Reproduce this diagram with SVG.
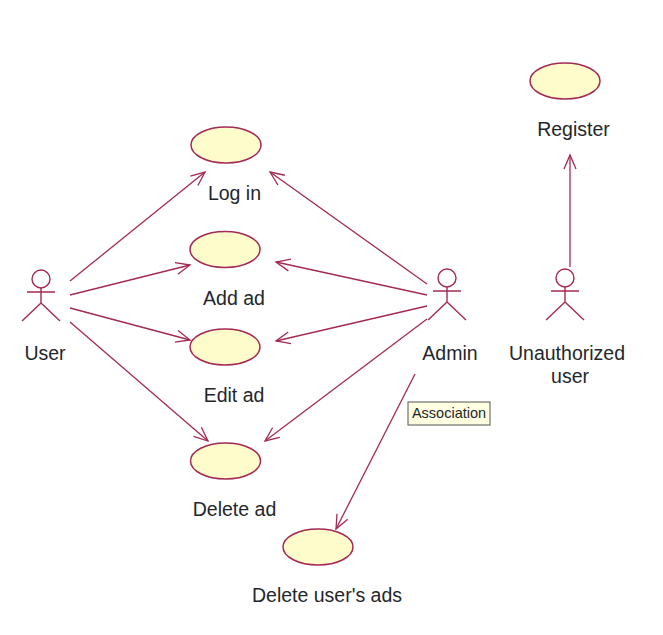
<svg xmlns="http://www.w3.org/2000/svg" width="663" height="635" viewBox="0 0 663 635">
<style>
.uc{fill:#fffccb;stroke:#a32a55;stroke-width:1.5}
.a{fill:none;stroke:#a32a55;stroke-width:1.4}
.c{fill:none;stroke:#a32a55;stroke-width:1.3;marker-end:url(#arr)}
text{font-family:"Liberation Sans",Arial,sans-serif;font-size:19.5px;fill:#23272c;text-anchor:middle}
</style>
<defs>
<marker id="arr" viewBox="-15 -7 17 14" refX="0" refY="0" markerWidth="17" markerHeight="14" markerUnits="userSpaceOnUse" orient="auto">
<path d="M-14,-6 L0,0 L-14,6" fill="none" stroke="#a32a55" stroke-width="1.3"/>
</marker>
<g id="stick">
<circle cx="0" cy="0" r="9" class="a"/>
<path class="a" d="M0,9V24M-14,13H14M0,24L-19,42M0,24L19,42"/>
</g>
</defs>
<rect width="663" height="635" fill="#fff"/>
<g id="connectors">
<path class="c" d="M70,281L205,172"/>
<path class="c" d="M70,295L190,265"/>
<path class="c" d="M70,308L190,340"/>
<path class="c" d="M70,322L208,441"/>
<path class="c" d="M427,284L270,172"/>
<path class="c" d="M427,295L276,262"/>
<path class="c" d="M427,306L276,341"/>
<path class="c" d="M427,319L265,441"/>
<path class="c" d="M415,374L336,529"/>
<path class="c" d="M570,267L570,155"/>
</g>
<g id="login"><ellipse class="uc" cx="226" cy="145" rx="35" ry="18"/><text x="234.500" y="200">Log in</text></g>
<g id="addad"><ellipse class="uc" cx="225" cy="249.500" rx="35" ry="18"/><text x="234" y="305">Add ad</text></g>
<g id="editad"><ellipse class="uc" cx="225" cy="347" rx="35" ry="18"/><text x="234" y="402">Edit ad</text></g>
<g id="deletead"><ellipse class="uc" cx="225.500" cy="461" rx="35" ry="18"/><text x="234.500" y="516">Delete ad</text></g>
<g id="deleteusersads"><ellipse class="uc" cx="318" cy="547" rx="35" ry="18"/><text x="327" y="602">Delete user's ads</text></g>
<g id="register"><ellipse class="uc" cx="565" cy="81" rx="35" ry="18"/><text x="573.500" y="136">Register</text></g>
<g id="user"><use href="#stick" x="41" y="279"/><text x="45" y="360">User</text></g>
<g id="admin"><use href="#stick" x="447" y="278"/><text x="450" y="360">Admin</text></g>
<g id="unauthorized"><use href="#stick" x="565" y="278"/><text x="567" y="360">Unauthorized</text><text x="570" y="383">user</text></g>
<g id="tooltip"><rect x="408" y="402" width="82" height="23" fill="#ffffe1" stroke="#555" stroke-width="1"/><text x="449" y="418" style="font-size:14.500px">Association</text></g>
</svg>
